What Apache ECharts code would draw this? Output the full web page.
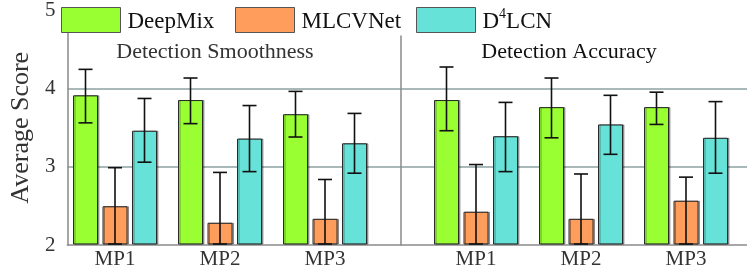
<!DOCTYPE html>
<html><head><meta charset="utf-8">
<script src="https://cdn.jsdelivr.net/npm/echarts@6/dist/echarts.min.js"></script>
<style>html,body{margin:0;padding:0;background:#fff}#c{width:747px;height:270px}</style>
</head><body><div id="c"></div>
<script>
const categories = ['MP1', 'MP2', 'MP3'];
const methods = ['DeepMix', 'MLCVNet', 'D4LCN'];
const panelTitles = ['Detection Smoothness', 'Detection Accuracy'];
const yTicks = [2, 3, 4, 5];

// Detection Smoothness
const smoothDeepMix = [3.89, 3.83, 3.65];
const smoothDeepMixLow = [3.54, 3.53, 3.36];
const smoothDeepMixHigh = [4.22, 4.11, 3.94];
const smoothMLCVNet = [2.48, 2.27, 2.32];
const smoothMLCVNetLow = [2.0, 2.0, 2.0];
const smoothMLCVNetHigh = [2.97, 2.91, 2.82];
const smoothD4LCN = [3.44, 3.34, 3.28];
const smoothD4LCNLow = [3.04, 2.92, 2.90];
const smoothD4LCNHigh = [3.85, 3.76, 3.66];

// Detection Accuracy
const accDeepMix = [3.83, 3.74, 3.74];
const accDeepMixLow = [3.44, 3.35, 3.52];
const accDeepMixHigh = [4.25, 4.11, 3.93];
const accMLCVNet = [2.41, 2.32, 2.55];
const accMLCVNetLow = [2.0, 2.0, 2.0];
const accMLCVNetHigh = [3.01, 2.89, 2.85];
const accD4LCN = [3.37, 3.52, 3.35];
const accD4LCNLow = [2.92, 3.14, 2.90];
const accD4LCNHigh = [3.80, 3.89, 3.81];

const colors = ['#99ff33', '#ff9d5c', '#66e2d8'];
const SERIF = '"Liberation Serif", "Times New Roman", serif';
const BAR_W = 25, BAR_GAP = 4.5, CAP = 7;

const panels = [
  {vals: [smoothDeepMix, smoothMLCVNet, smoothD4LCN], lo: [smoothDeepMixLow, smoothMLCVNetLow, smoothD4LCNLow], hi: [smoothDeepMixHigh, smoothMLCVNetHigh, smoothD4LCNHigh]},
  {vals: [accDeepMix, accMLCVNet, accD4LCN], lo: [accDeepMixLow, accMLCVNetLow, accD4LCNLow], hi: [accDeepMixHigh, accMLCVNetHigh, accD4LCNHigh]}
];

const chart = echarts.init(document.getElementById('c'));
const yMin = yTicks[0], yMax = yTicks[yTicks.length - 1];

const grid = [
  {left: 45, right: 0, top: 8, bottom: 25},
  {left: 62.5, right: 369.5, top: 8, bottom: 25},
  {left: 423.5, right: 8.5, top: 8, bottom: 25},
  {left: 401, right: 0, top: 36, bottom: 25}
];
const xLabel = {fontFamily: SERIF, fontSize: 21, color: '#333', margin: 5};
const xAxis = [
  {gridIndex: 0, type: 'value', min: 0, max: 1, axisLine: {show: true, onZero: false, lineStyle: {color: '#8a8a8a', width: 1.5}}, axisTick: {show: false}, axisLabel: {show: false}, splitLine: {show: false}},
  {gridIndex: 1, type: 'category', data: categories, axisLine: {show: false}, axisTick: {show: false}, axisLabel: xLabel},
  {gridIndex: 2, type: 'category', data: categories, axisLine: {show: false}, axisTick: {show: false}, axisLabel: xLabel},
  {gridIndex: 3, type: 'value', show: false}
];
const yAxis = [
  {gridIndex: 0, type: 'value', min: yMin, max: yMax, interval: 1,
   name: 'Average Score', nameLocation: 'middle', nameGap: 32, nameRotate: 90,
   nameTextStyle: {fontFamily: SERIF, fontSize: 26, color: '#333'},
   axisLine: {show: true, lineStyle: {color: '#8a8a8a', width: 1.5}}, axisTick: {show: false},
   axisLabel: {fontFamily: SERIF, fontSize: 21, color: '#333', margin: 12},
   splitLine: {show: true, showMinLine: false, showMaxLine: false, lineStyle: {color: '#a9b9b9', width: 2}}},
  {gridIndex: 1, type: 'value', min: yMin, max: yMax, show: false},
  {gridIndex: 2, type: 'value', min: yMin, max: yMax, show: false},
  {gridIndex: 3, type: 'value', min: 0, max: 1, axisLine: {show: true, lineStyle: {color: '#8a8a8a', width: 1.5}}, axisTick: {show: false}, axisLabel: {show: false}, splitLine: {show: false}}
];

const series = [];
panels.forEach((p, pi) => {
  methods.forEach((m, mi) => {
    series.push({
      name: m, type: 'bar', xAxisIndex: pi + 1, yAxisIndex: pi + 1,
      data: p.vals[mi], barWidth: BAR_W, barGap: (BAR_GAP / BAR_W * 100) + '%',
      itemStyle: {color: colors[mi], borderColor: '#2a2a2a', borderWidth: 1,
        shadowColor: 'rgba(0,0,0,0.35)', shadowOffsetX: 1.5, shadowOffsetY: 0, shadowBlur: 0},
      emphasis: {disabled: true}, silent: true, z: 2
    });
  });
  methods.forEach((m, mi) => {
    const off = (mi - 1) * (BAR_W + BAR_GAP);
    series.push({
      type: 'custom', xAxisIndex: pi + 1, yAxisIndex: pi + 1, silent: true, z: 5,
      data: categories.map((c, ci) => [ci, p.lo[mi][ci], p.hi[mi][ci]]),
      renderItem: function (params, api) {
        const lo = api.coord([api.value(0), api.value(1)]);
        const hi = api.coord([api.value(0), api.value(2)]);
        const x = lo[0] + off;
        const st = {stroke: '#111', lineWidth: 1.6};
        return {type: 'group', children: [
          {type: 'line', shape: {x1: x, y1: lo[1], x2: x, y2: hi[1]}, style: st},
          {type: 'line', shape: {x1: x - CAP, y1: lo[1], x2: x + CAP, y2: lo[1]}, style: st},
          {type: 'line', shape: {x1: x - CAP, y1: hi[1], x2: x + CAP, y2: hi[1]}, style: st}
        ]};
      }
    });
  });
});

const legendRich = {
  a: {fontFamily: SERIF, fontSize: 23, color: '#111', verticalAlign: 'bottom', lineHeight: 26},
  s: {fontFamily: SERIF, fontSize: 14, color: '#111', verticalAlign: 'top', lineHeight: 26}
};
const legendFmt = n => n === 'D4LCN' ? '{a|D}{s|4}{a|LCN}' : '{a|' + n + '}';
const legendLeft = [61, 235, 416];
const legend = methods.map((m, i) => ({
  data: [m], left: legendLeft[i], top: 7, itemWidth: 59, itemHeight: 25, itemGap: 0, padding: 0,
  icon: 'rect', selectedMode: false, formatter: legendFmt,
  itemStyle: {borderColor: '#555', borderWidth: 1, shadowBlur: 0, shadowOffsetX: 0},
  textStyle: {fontFamily: SERIF, fontSize: 23, color: '#111', rich: legendRich, padding: [0, 0, 0, 2]}
}));

chart.setOption({
  animation: false,
  color: colors,
  grid, xAxis, yAxis, series, legend,
  graphic: [
    {type: 'text', x: 215, y: 41, style: {text: panelTitles[0], font: '22px ' + SERIF, fill: '#333', align: 'center', textAlign: 'center'}},
    {type: 'text', x: 569, y: 41, style: {text: panelTitles[1], font: '22px ' + SERIF, fill: '#111', align: 'center', textAlign: 'center'}}
  ]
});
</script>
</body></html>
